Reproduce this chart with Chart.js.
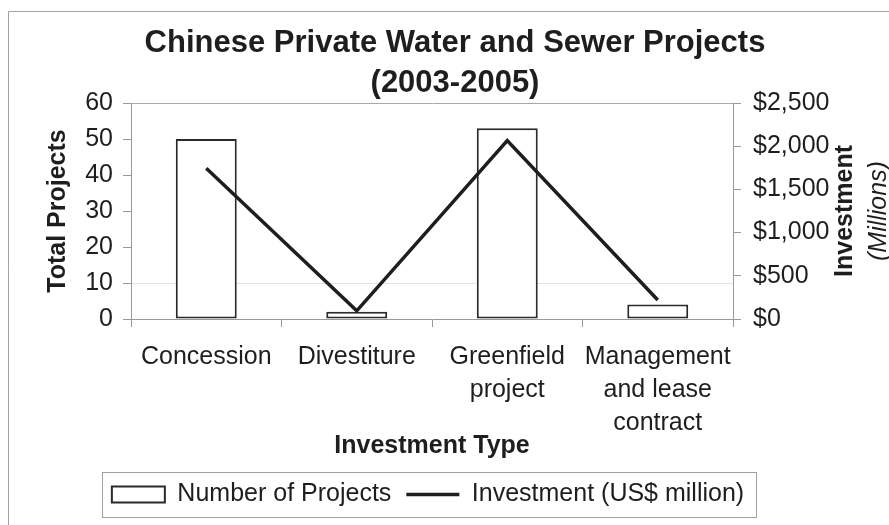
<!DOCTYPE html>
<html>
<head>
<meta charset="utf-8">
<script src="https://cdn.jsdelivr.net/npm/chart.js@4"></script>
<style>
    body { margin: 0; background: #fff; }
    #wrap { width: 889px; height: 525px; }
</style>
</head>
<body>
<div id="wrap"><canvas id="waterChart" width="889" height="525"></canvas></div>
<script>
const investmentTypes = [
    "Concession",
    "Divestiture",
    ["Greenfield", "project"],
    ["Management", "and lease", "contract"]
];
const numberOfProjects = [50, 2, 53, 4];
const investmentMillions = [1745, 95, 2065, 220];

const projectTicks = { min: 0, max: 60, step: 10 };
const investmentTicks = { min: 0, max: 2500, step: 500 };

const titleLines = ["Chinese Private Water and Sewer Projects", "(2003-2005)"];

const fontFamily = "'Liberation Sans', Arial, sans-serif";
const axisGray = "#9a9a9a";
const inkColor = "#1e1e1e";

/* Frame line on the top and left edge */
const framePlugin = {
    id: "frame",
    beforeDraw(chart) {
        const ctx = chart.ctx;
        ctx.save();
        ctx.strokeStyle = "#a0a0a0";
        ctx.lineWidth = 1;
        ctx.beginPath();
        ctx.moveTo(8.5, chart.height);
        ctx.lineTo(8.5, 11.5);
        ctx.lineTo(chart.width, 11.5);
        ctx.stroke();
        ctx.restore();
    }
};

/* Title, right axis title (bold + italic) and border round the legend */
const extrasPlugin = {
    id: "extras",
    afterDraw(chart) {
        const ctx = chart.ctx;
        const area = chart.chartArea;
        const midY = (area.top + area.bottom) / 2;

        ctx.save();
        ctx.fillStyle = inkColor;
        ctx.textAlign = "center";
        ctx.textBaseline = "middle";
        ctx.font = "bold 31px " + fontFamily;
        ctx.fillText(titleLines[0], 455, 43);
        ctx.fillText(titleLines[1], 455, 83);
        ctx.restore();

        ctx.save();
        ctx.fillStyle = inkColor;
        ctx.textAlign = "center";
        ctx.textBaseline = "middle";
        ctx.translate(845, midY);
        ctx.rotate(-Math.PI / 2);
        ctx.font = "bold 25px " + fontFamily;
        ctx.fillText("Investment", 0, 0);
        ctx.restore();

        ctx.save();
        ctx.fillStyle = inkColor;
        ctx.textAlign = "center";
        ctx.textBaseline = "middle";
        ctx.translate(879, midY);
        ctx.rotate(-Math.PI / 2);
        ctx.font = "italic 25px " + fontFamily;
        ctx.fillText("(Millions)", 0, 0);
        ctx.restore();

        const boxes = chart.legend.legendHitBoxes;
        if (boxes && boxes.length) {
            const first = boxes[0];
            const last = boxes[boxes.length - 1];
            const rowMid = first.top + first.height / 2;
            const left = Math.round(first.left - 10) + 0.5;
            const right = Math.round(last.left + last.width + 12) + 0.5;
            ctx.save();
            ctx.strokeStyle = "#a0a0a0";
            ctx.lineWidth = 1;
            ctx.strokeRect(left, Math.round(rowMid - 22.5) + 0.5, right - left, 45);
            ctx.restore();
        }
    }
};

new Chart(document.querySelector("#waterChart"), {
    data: {
        labels: investmentTypes,
        datasets: [
            {
                type: "bar",
                label: "Number of Projects",
                data: numberOfProjects,
                yAxisID: "y",
                backgroundColor: "#ffffff",
                borderColor: "#2a2a2a",
                borderWidth: 2,
                borderSkipped: false,
                pointStyle: "rect",
                barPercentage: 0.405,
                categoryPercentage: 1.0,
                order: 1
            },
            {
                type: "line",
                label: "Investment (US$ million)",
                data: investmentMillions,
                yAxisID: "y1",
                borderColor: inkColor,
                backgroundColor: inkColor,
                borderWidth: 3.5,
                pointRadius: 0,
                pointStyle: "line",
                tension: 0,
                order: 0
            }
        ]
    },
    options: {
        responsive: false,
        animation: false,
        layout: {
            padding: { top: 103, left: 0, right: 33, bottom: 8 }
        },
        plugins: {
            title: { display: false },
            legend: {
                position: "bottom",
                labels: {
                    color: inkColor,
                    font: { family: fontFamily, size: 25 },
                    usePointStyle: true,
                    pointStyleWidth: 53,
                    boxHeight: 16,
                    padding: 15,
                    sort: (a, b) => a.datasetIndex - b.datasetIndex
                }
            },
            tooltip: { enabled: false }
        },
        scales: {
            x: {
                afterFit: scale => { scale.height = 148; },
                grid: {
                    drawOnChartArea: false,
                    tickLength: 8,
                    tickColor: axisGray,
                    offset: true
                },
                border: { color: axisGray },
                ticks: {
                    color: inkColor,
                    font: { family: fontFamily, size: 25, lineHeight: 1.32 },
                    padding: 14,
                    maxRotation: 0,
                    autoSkip: false
                },
                title: {
                    display: true,
                    text: "Investment Type",
                    color: inkColor,
                    font: { family: fontFamily, size: 25, weight: "bold" },
                    padding: { top: 0, bottom: 6 }
                }
            },
            y: {
                position: "left",
                min: projectTicks.min,
                max: projectTicks.max,
                afterFit: scale => { scale.width = 131; },
                grid: {
                    color: ctx => {
                        const v = ctx.tick ? ctx.tick.value : null;
                        if (v === 60) return "#a8a8a8";
                        if (v === 10) return "#e2e2e2";
                        return "rgba(0,0,0,0)";
                    },
                    tickColor: axisGray,
                    tickLength: 8
                },
                border: { color: axisGray },
                ticks: {
                    stepSize: projectTicks.step,
                    color: inkColor,
                    font: { family: fontFamily, size: 25 },
                    padding: 10
                },
                title: {
                    display: true,
                    text: "Total Projects",
                    color: inkColor,
                    font: { family: fontFamily, size: 25, weight: "bold" },
                    padding: { top: 43, bottom: 0 }
                }
            },
            y1: {
                position: "right",
                min: investmentTicks.min,
                max: investmentTicks.max,
                afterFit: scale => { scale.width = 123; },
                grid: {
                    drawOnChartArea: false,
                    tickColor: axisGray,
                    tickLength: 8
                },
                border: { color: axisGray },
                ticks: {
                    stepSize: investmentTicks.step,
                    color: inkColor,
                    font: { family: fontFamily, size: 25 },
                    padding: 12,
                    callback: value => "$" + value.toLocaleString("en-US")
                }
            }
        }
    },
    plugins: [framePlugin, extrasPlugin]
});
</script>
</body>
</html>
